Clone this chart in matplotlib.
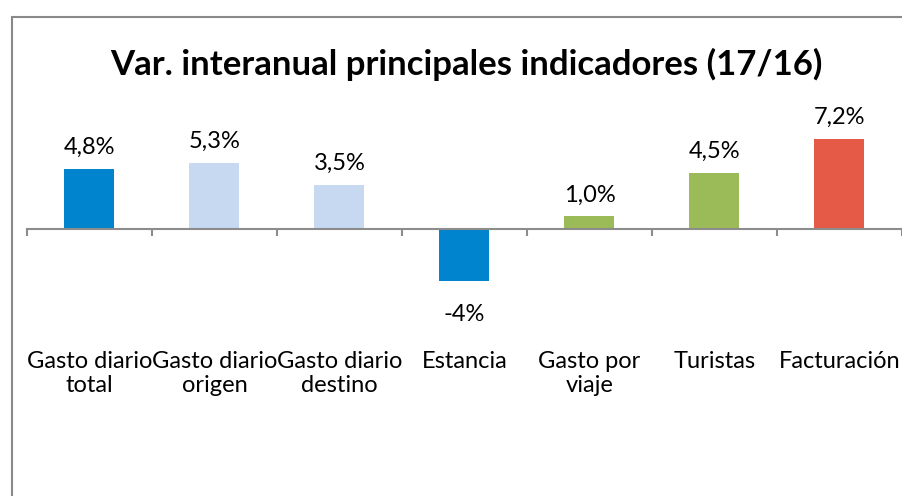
import matplotlib.pyplot as plt
import matplotlib.patches as mpatches
import matplotlib.transforms as mtransforms

# Data
categories = ['Gasto diario\ntotal', 'Gasto diario\norigen', 'Gasto diario\ndestino',
              'Estancia', 'Gasto por\nviaje', 'Turistas', 'Facturación']
values = [4.8, 5.3, 3.5, -4.2, 1.0, 4.5, 7.2]
value_labels = ['4,8%', '5,3%', '3,5%', '-4%', '1,0%', '4,5%', '7,2%']
bar_colors = ['#0084CE', '#C6D9F1', '#C6D9F1', '#0084CE', '#9BBB59', '#9BBB59', '#E45A46']

plt.rcParams['font.family'] = ['Lato', 'DejaVu Sans']

W, H = 903, 496
fig = plt.figure(figsize=(W / 100, H / 100), dpi=100)

# Axes placed in pixel terms (left 27, right 902, top 130, bottom 340)
ax = fig.add_axes([27 / W, 1 - 340 / H, 875 / W, 210 / H])
x = list(range(len(categories)))
ax.bar(x, values, width=0.4, color=bar_colors)
ax.set_xlim(-0.5, len(categories) - 0.5)
ax.set_ylim(-8.88, 7.92)

# Axis line at zero with tick marks between categories
for s in ['left', 'right', 'top']:
    ax.spines[s].set_visible(False)
ax.spines['bottom'].set_position(('data', 0))
ax.spines['bottom'].set_color('#8C8C8C')
ax.spines['bottom'].set_linewidth(1.5)
ax.set_xticks([i - 0.5 for i in range(len(categories) + 1)])
ax.set_xticklabels([])
ax.tick_params(axis='x', direction='out', length=5, width=1.5, color='#8C8C8C')
ax.set_yticks([])

# Value labels
for xi, v, lab in zip(x, values, value_labels):
    if v >= 0:
        ax.annotate(lab, (xi, v), xytext=(0, 8), textcoords='offset points',
                    ha='center', va='bottom', fontsize=17, color='black', clip_on=False)
    else:
        ax.annotate(lab, (xi, v), xytext=(0, -16), textcoords='offset points',
                    ha='center', va='top', fontsize=17, color='black', clip_on=False)

# Category labels at the low position
trans = mtransforms.blended_transform_factory(ax.transData, ax.transAxes)
for xi, cat in zip(x, categories):
    ax.text(xi, -0.05, cat, transform=trans, ha='center', va='top',
            fontsize=17, color='black', linespacing=1.2)

# Title
fig.text(466 / W, 1 - 64 / H, 'Var. interanual principales indicadores (17/16)',
         ha='center', va='center', fontsize=25, fontweight='bold', color='black')

# Chart border (cropped on right and bottom)
border = mpatches.Rectangle((12.5 / W, -0.2), 1.5, 1 - 16.5 / H + 0.2,
                            transform=fig.transFigure, fill=False,
                            edgecolor='#898989', linewidth=1.5)
fig.patches.append(border)

plt.savefig('out.png', dpi=100)
